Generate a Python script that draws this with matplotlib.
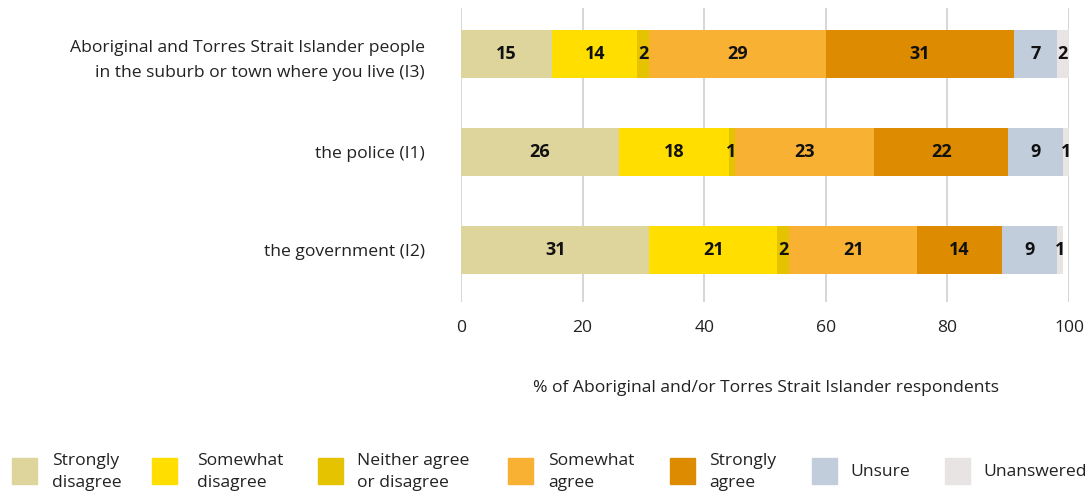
import matplotlib
matplotlib.use("Agg")
import matplotlib.pyplot as plt
from matplotlib.patches import Rectangle

plt.rcParams['font.family'] = ['Open Sans', 'DejaVu Sans']

questions = [
    "Aboriginal and Torres Strait Islander people\nin the suburb or town where you live (I3)",
    "the police (I1)",
    "the government (I2)",
]
responses = ["Strongly\ndisagree", "Somewhat\ndisagree", "Neither agree\nor disagree",
             "Somewhat\nagree", "Strongly\nagree", "Unsure", "Unanswered"]
colors = ["#DDD59C", "#FFDE00", "#E5C300", "#F8B133", "#DD8B00", "#C2CDDC", "#E8E4E4"]

strongly_disagree = [15, 26, 31]
somewhat_disagree = [14, 18, 21]
neither = [2, 1, 2]
somewhat_agree = [29, 23, 21]
strongly_agree = [31, 22, 14]
unsure = [7, 9, 9]
unanswered = [2, 1, 1]
series = [strongly_disagree, somewhat_disagree, neither, somewhat_agree,
          strongly_agree, unsure, unanswered]

xticks = [0, 20, 40, 60, 80, 100]
xlabel = "% of Aboriginal and/or Torres Strait Islander respondents"

W, H = 1091, 499
fig = plt.figure(figsize=(W / 100, H / 100), dpi=100)
ax = fig.add_axes([461 / W, 1 - 302 / H, (1069 - 461) / W, (302 - 8) / H])

ypos = list(range(len(questions)))
left = [0] * len(questions)
for vals, col in zip(series, colors):
    ax.barh(ypos, vals, left=left, height=0.49, color=col, zorder=2)
    for y, v, l in zip(ypos, vals, left):
        ax.text(l + v / 2, y, str(v), ha="center", va="center",
                fontsize=13, fontweight="bold", color="#111111", zorder=3)
    left = [a + b for a, b in zip(left, vals)]

ax.set_xlim(0, 100)
ax.set_ylim(2.53, -0.47)
ax.set_xticks(xticks)
ax.set_xticklabels([str(t) for t in xticks], fontsize=12.6, color="#222222")
ax.set_yticks(ypos)
ax.set_yticklabels(questions, fontsize=12.6, color="#222222", linespacing=1.75)
ax.tick_params(axis="x", length=0, pad=13)
ax.tick_params(axis="y", length=0, pad=26)
ax.xaxis.grid(True, color="#D0D0D0", linewidth=1.2, zorder=0)
ax.set_axisbelow(True)
for s in ax.spines.values():
    s.set_visible(False)

fig.text(766 / W, 1 - 388 / H, xlabel, ha="center", va="center",
         fontsize=12.6, color="#222222")

# legend row along the bottom
patch_x = [12, 152, 318, 508, 670, 812, 945]
text_x = [52, 197, 357, 548, 709, 850, 983]
for px, tx, lab, col in zip(patch_x, text_x, responses, colors):
    fig.add_artist(Rectangle((px / W, 1 - 484 / H), 25 / W, 26 / H,
                             transform=fig.transFigure, color=col))
    fig.text(tx / W, 1 - 472 / H, lab, ha="left", va="center",
             fontsize=12.6, color="#222222", linespacing=1.45)

fig.savefig("out.png", dpi=100, facecolor="white")
